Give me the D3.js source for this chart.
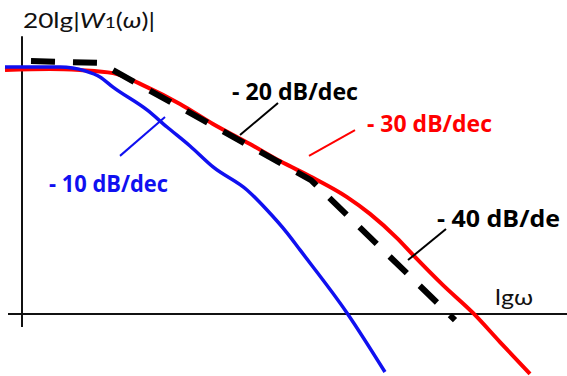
<!DOCTYPE html>
<html>
<head>
<meta charset="UTF-8" />
<style>
  body { margin: 0; background: #fff; }
  svg { display: block; }
  .lbl { font-family: 'Open Sans', Lato, sans-serif; font-weight: 700; font-size: 23px; }
  .ax { font-family: Lato, 'Open Sans', sans-serif; font-size: 22px; }
</style>
</head>
<body>
<svg id="chart" width="567" height="376"></svg>
<script src="https://d3js.org/d3.v7.min.js"></script>
<script>
// lgω (decades) and 20lg|W| (dB)
const redLg  = [-0.17, 0.28, 0.58, 0.91, 1.25, 1.58, 1.91, 2.28, 2.58, 2.91, 3.25, 3.48, 3.75, 3.91, 4.21, 4.51, 4.78, 5.08];
const redDb  = [88.7, 89.1, 88.7, 87.6, 82.5, 76.4, 69.1, 61.8, 55.6, 49.5, 42.5, 36.4, 27.6, 21.5, 10.5, 0.4, -10.2, -21.8];
const blueLg = [-0.17, 0.38, 0.63, 0.78, 0.91, 1.25, 1.45, 1.68, 1.91, 2.25, 2.45, 2.65, 2.78, 3.25, 3.63];
const blueDb = [89.8, 89.8, 88.4, 86.2, 82.5, 74.2, 68.0, 61.1, 53.5, 45.1, 37.8, 29.5, 23.3, 0.4, -21.1];
const asymLg = [0.09, 0.78, 2.89, 4.33];
const asymDb = [92.0, 91.3, 48.7, -2.2];

// slope annotations: text, colour, label anchor, leader line ends
const notes = [
  { text: "- 10 dB/dec", color: "#1010f0", at: [0.27, 44.4], w: 119, line: [[0.98, 57.5], [1.43, 71.6]] },
  { text: "- 20 dB/dec", color: "#000",    at: [2.10, 78.0], w: 126, line: [[2.18, 65.1], [2.56, 76.7]] },
  { text: "- 30 dB/dec", color: "#f00",    at: [3.45, 66.2], w: 125, line: [[2.87, 57.5], [3.33, 66.9]] },
  { text: "- 40 dB/de",  color: "#000",    at: [4.15, 31.6], w: 123, line: [[3.86, 19.6], [4.24, 30.9]] }
];

const svg = d3.select("#chart");
const x = d3.scaleLinear().domain([0, 5]).range([22, 522]);
const y = d3.scaleLinear().domain([0, 100]).range([314, 39]);

// axes
svg.append("line")
  .attr("x1", x(0)).attr("x2", x(0))
  .attr("y1", y(101)).attr("y2", y(-4.7))
  .attr("stroke", "#111").attr("stroke-width", 2);
svg.append("line")
  .attr("x1", x(-0.14)).attr("x2", 567)
  .attr("y1", y(0)).attr("y2", y(0))
  .attr("stroke", "#111").attr("stroke-width", 2);

const line = d3.line().x(d => x(d[0])).y(d => y(d[1])).curve(d3.curveMonotoneX);
const zip = (a, b) => a.map((v, i) => [v, b[i]]);

svg.append("path").attr("d", line(zip(redLg, redDb)))
  .attr("fill", "none").attr("stroke", "#f00").attr("stroke-width", 4);
svg.append("path").attr("d", line(zip(blueLg, blueDb)))
  .attr("fill", "none").attr("stroke", "#1010f0").attr("stroke-width", 3.5);
svg.append("path").attr("d", d3.line().x(d => x(d[0])).y(d => y(d[1]))(zip(asymLg, asymDb)))
  .attr("fill", "none").attr("stroke", "#000").attr("stroke-width", 6)
  .attr("stroke-dasharray", "24,18");

// annotations
notes.forEach(n => {
  svg.append("line")
    .attr("x1", x(n.line[0][0])).attr("y1", y(n.line[0][1]))
    .attr("x2", x(n.line[1][0])).attr("y2", y(n.line[1][1]))
    .attr("stroke", n.color).attr("stroke-width", 2);
  svg.append("text").attr("class", "lbl")
    .attr("x", x(n.at[0])).attr("y", y(n.at[1]))
    .attr("fill", n.color)
    .attr("textLength", n.w).attr("lengthAdjust", "spacingAndGlyphs")
    .text(n.text);
});

// axis titles
const t = svg.append("text").attr("class", "ax")
  .attr("x", 23).attr("y", 28).attr("fill", "#111")
  .attr("textLength", 132).attr("lengthAdjust", "spacingAndGlyphs");
t.append("tspan").text("20lg|");
t.append("tspan").attr("font-style", "italic").text("W");
t.append("tspan").attr("font-size", 16).text("1");
t.append("tspan").text("(");
t.append("tspan").attr("font-style", "italic").text("ω");
t.append("tspan").text(")|");

svg.append("text").attr("class", "ax")
  .attr("x", 495).attr("y", 305).attr("fill", "#111")
  .attr("textLength", 38).attr("lengthAdjust", "spacingAndGlyphs")
  .text("lgω");
</script>
</body>
</html>
